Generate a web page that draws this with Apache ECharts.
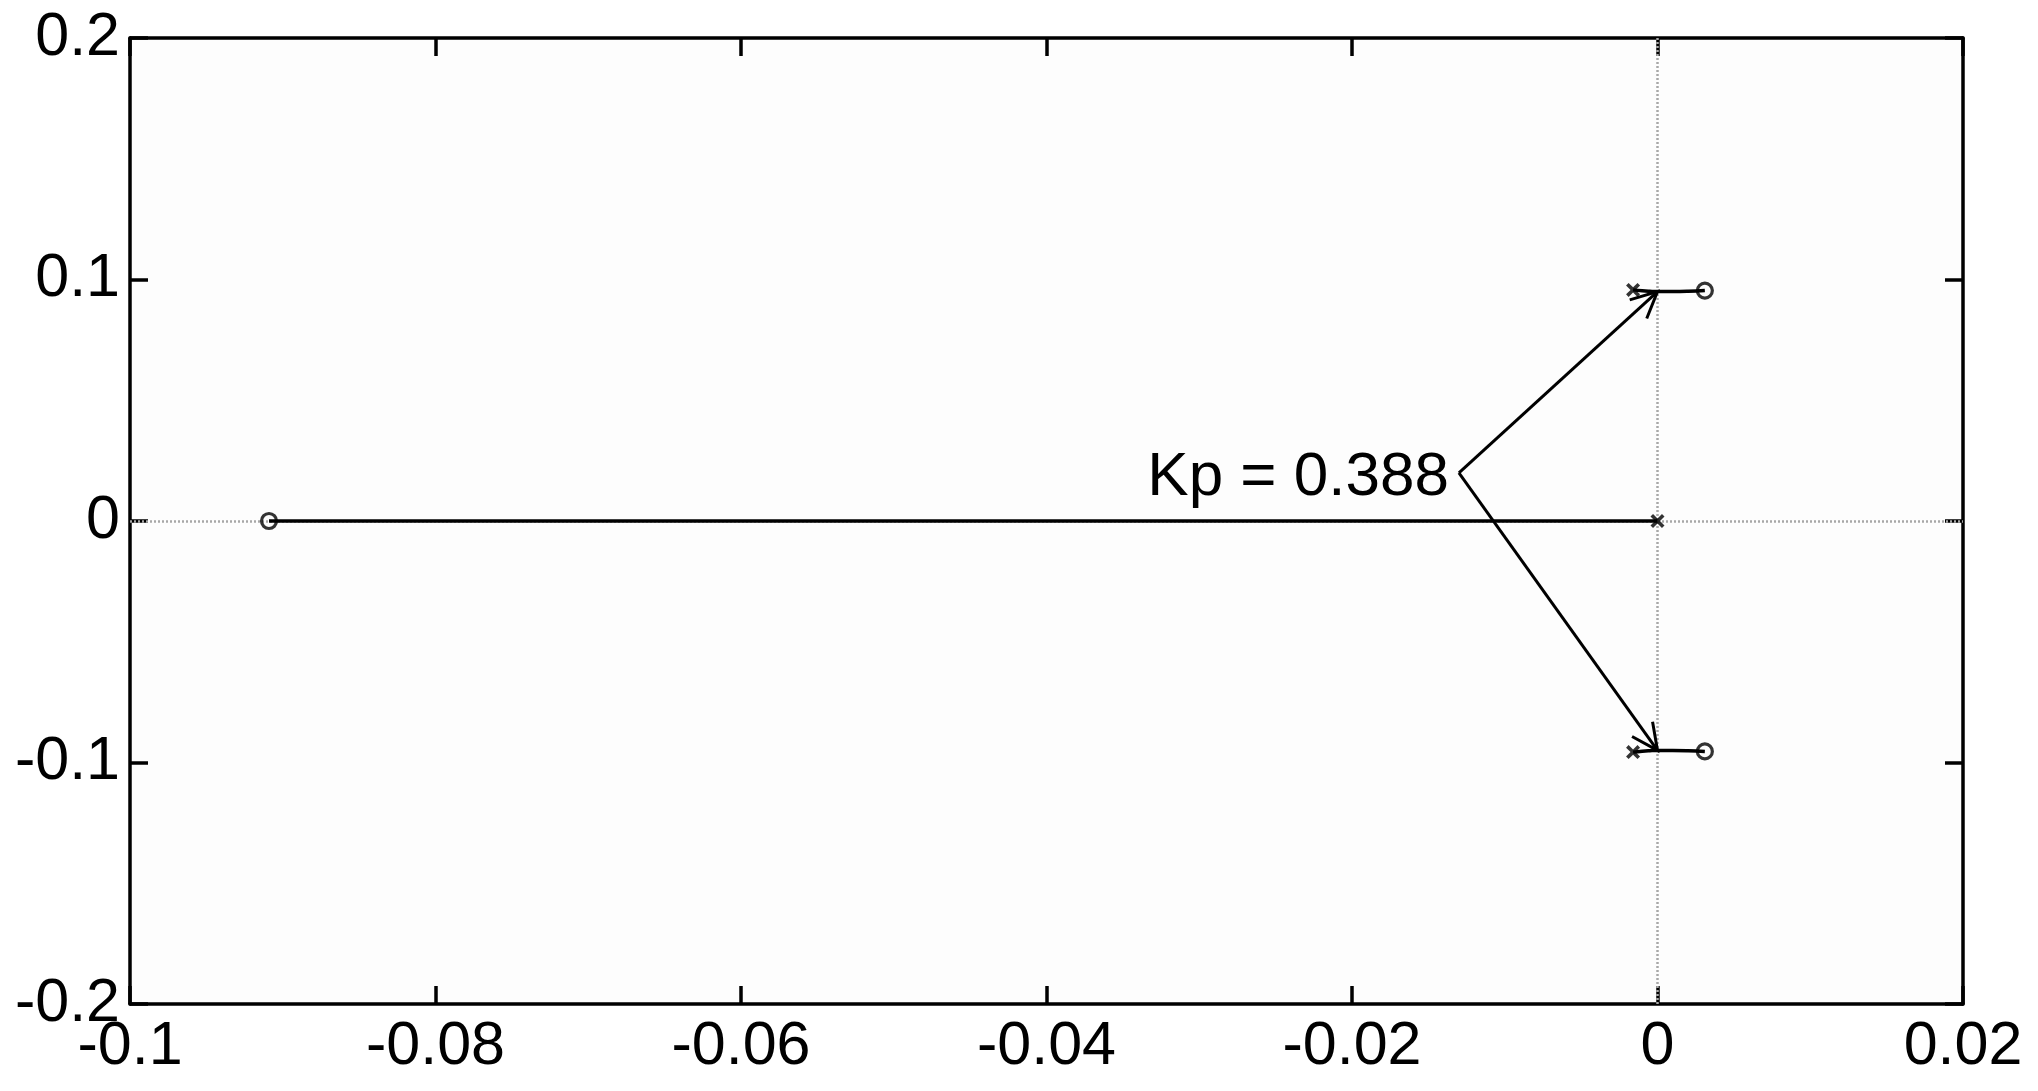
<!DOCTYPE html>
<html><head><meta charset="utf-8">
<script src="https://cdn.jsdelivr.net/npm/echarts@6/dist/echarts.min.js"></script>
<style>html,body{margin:0;padding:0;background:#fff}#c{width:2038px;height:1091px}</style>
</head><body><div id="c"></div>
<script>
// ---- data ----
const xTickValues = [-0.1, -0.08, -0.06, -0.04, -0.02, 0, 0.02];
const xTickLabels = ['-0.1', '-0.08', '-0.06', '-0.04', '-0.02', '0', '0.02'];
const yTickValues = [-0.2, -0.1, 0, 0.1, 0.2];
const yTickLabels = ['-0.2', '-0.1', '0', '0.1', '0.2'];
const poles = [[-0.0016, 0.0957], [-0.0016, -0.0957], [0, 0]];
const zeros = [[0.0031, 0.0954], [0.0031, -0.0954], [-0.0909, 0]];
const branchUpper = [[-0.0016, 0.0957], [-0.0010, 0.0953], [-0.0005, 0.0951], [0, 0.0950], [0.0010, 0.0950], [0.0020, 0.0951], [0.0031, 0.0954]];
const branchLower = [[-0.0016, -0.0957], [-0.0010, -0.0953], [-0.0005, -0.0951], [0, -0.0950], [0.0010, -0.0950], [0.0020, -0.0951], [0.0031, -0.0954]];
const branchReal = [[-0.0909, 0], [0, 0]];
const annotationText = 'Kp = 0.388';
const annotationArrows = [[-0.0130, 0.0199, 0.0000, 0.0950], [-0.0130, 0.0199, 0.0000, -0.0950]];

// ---- helpers ----
function lookup(vals, labels, v) {
  const i = vals.findIndex(t => Math.abs(t - v) < 1e-9);
  return i >= 0 ? labels[i] : '';
}
const FONT = "'Liberation Sans', Arial, sans-serif";
const frameLine = { show: true, onZero: false, lineStyle: { color: '#000', width: 3.5 } };
const frameTick = { show: true, inside: true, length: 18, lineStyle: { color: '#000', width: 3.5 } };
const X_CROSS = 'path://M0,1.8 L1.8,0 L5,3.2 L8.2,0 L10,1.8 L6.8,5 L10,8.2 L8.2,10 L5,6.8 L1.8,10 L0,8.2 L3.2,5 Z';

const chart = echarts.init(document.getElementById('c'), null, { renderer: 'canvas' });
chart.setOption({
  animation: false,
  backgroundColor: '#fff',
  grid: { left: 130, right: 75, top: 38, bottom: 87, show: true, backgroundColor: '#fdfdfd', borderWidth: 0 },
  xAxis: [
    { type: 'value', min: -0.1, max: 0.02, interval: 0.02, position: 'bottom',
      axisLine: frameLine, axisTick: frameTick, splitLine: { show: false },
      axisLabel: { show: true, showMinLabel: true, showMaxLabel: true, margin: 13, color: '#000', fontSize: 61, fontFamily: FONT,
        formatter: v => lookup(xTickValues, xTickLabels, v) } },
    { type: 'value', min: -0.1, max: 0.02, interval: 0.02, position: 'top',
      axisLine: frameLine, axisTick: frameTick, splitLine: { show: false }, axisLabel: { show: false } }
  ],
  yAxis: [
    { type: 'value', min: -0.2, max: 0.2, interval: 0.1, position: 'left',
      axisLine: frameLine, axisTick: frameTick, splitLine: { show: false },
      axisLabel: { show: true, showMinLabel: true, showMaxLabel: true, margin: 10, color: '#000', fontSize: 61, fontFamily: FONT,
        formatter: v => lookup(yTickValues, yTickLabels, v) } },
    { type: 'value', min: -0.2, max: 0.2, interval: 0.1, position: 'right',
      axisLine: frameLine, axisTick: frameTick, splitLine: { show: false }, axisLabel: { show: false } }
  ],
  series: [
    { type: 'line', data: branchReal, showSymbol: false, symbol: 'none', z: 3,
      lineStyle: { color: '#000', width: 3.5 },
      markLine: { silent: true, symbol: 'none', label: { show: false }, z: 1,
        lineStyle: { color: '#a8a8a8', width: 2.5, type: [2, 2] },
        data: [{ xAxis: 0 }, { yAxis: 0 }] } },
    { type: 'line', data: branchUpper, smooth: true, showSymbol: false, symbol: 'none', z: 3,
      lineStyle: { color: '#000', width: 3.5 } },
    { type: 'line', data: branchLower, smooth: true, showSymbol: false, symbol: 'none', z: 3,
      lineStyle: { color: '#000', width: 3.5 } },
    { type: 'scatter', data: poles, symbol: X_CROSS, symbolSize: 14, z: 5,
      itemStyle: { color: '#000' } },
    { type: 'scatter', data: zeros, symbol: 'circle', symbolSize: 15, z: 5,
      itemStyle: { color: 'rgba(0,0,0,0)', borderColor: '#000', borderWidth: 3.2 } },
    { type: 'custom', data: annotationArrows, z: 6, clip: false,
      encode: { x: [0, 2], y: [1, 3] },
      renderItem: function (params, api) {
        const p0 = api.coord([api.value(0), api.value(1)]);
        const p1 = api.coord([api.value(2), api.value(3)]);
        const ang = Math.atan2(p1[1] - p0[1], p1[0] - p0[0]);
        const L = 29, a = 0.45;
        const h1 = [p1[0] - L * Math.cos(ang - a), p1[1] - L * Math.sin(ang - a)];
        const h2 = [p1[0] - L * Math.cos(ang + a), p1[1] - L * Math.sin(ang + a)];
        const st = { stroke: '#000', lineWidth: 3, fill: null };
        const children = [
          { type: 'polyline', shape: { points: [p0, p1] }, style: st },
          { type: 'polyline', shape: { points: [h1, p1, h2] }, style: st }
        ];
        if (params.dataIndex === 0) {
          children.push({ type: 'text', x: p0[0] - 10, y: p0[1] + 5,
            style: { text: annotationText, fontSize: 62, fontFamily: FONT, fill: '#000', align: 'right', verticalAlign: 'middle' } });
        }
        return { type: 'group', children: children };
      } }
  ]
});
</script></body></html>
